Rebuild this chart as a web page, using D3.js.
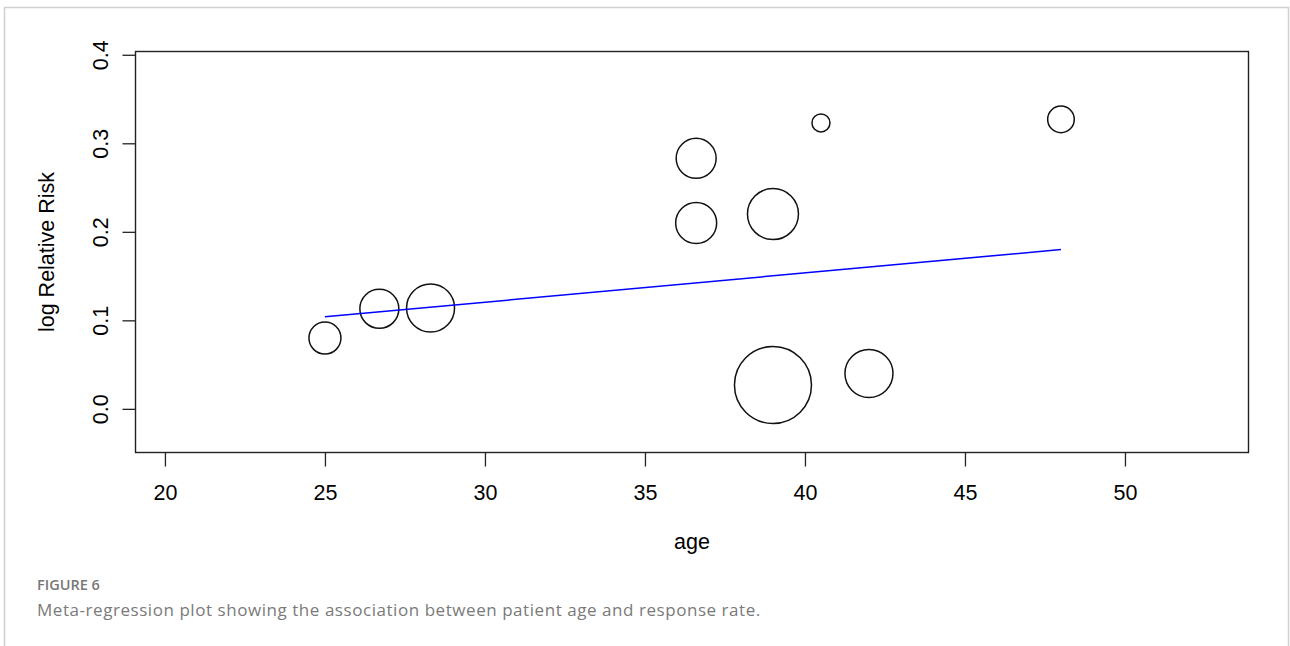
<!DOCTYPE html>
<html>
<head>
<meta charset="utf-8">
<script src="https://cdn.jsdelivr.net/npm/d3@7"></script>
<style>
  body { margin: 0; background: #fff; }
  svg { display: block; }
</style>
</head>
<body>
<div id="chart"></div>
<script>
// study data: age, log RR, circle radius (px, ~ weight)
const ages = [25.0, 26.7, 28.3, 36.6, 36.6, 39.0, 39.0, 40.5, 42.0, 48.0];
const logRR = [0.080, 0.113, 0.114, 0.283, 0.210, 0.220, 0.027, 0.323, 0.040, 0.327];
const radii = [16, 19.5, 24, 20, 20.5, 25.5, 38.5, 9, 24, 13.3];

// fitted meta-regression line (endpoints at min / max age)
const fitAge = [25, 48];
const fitRR = [0.104, 0.180];

const xTicks = [20, 25, 30, 35, 40, 45, 50];
const yTicks = [0.0, 0.1, 0.2, 0.3, 0.4];

const W = 1290, H = 646;
const box = {left: 135.5, top: 51.5, right: 1248.5, bottom: 452.5};

const svg = d3.select("#chart").append("svg")
    .attr("width", W)
    .attr("height", H);

// card frame
svg.append("rect")
    .attr("x", 4.5).attr("y", 7.5)
    .attr("width", 1284).attr("height", 660)
    .attr("fill", "none")
    .attr("stroke", "#d0d0d0")
    .attr("stroke-width", 1.5);

const x = d3.scaleLinear()
    .domain([19.08, 53.86])
    .range([box.left, box.right]);

const y = d3.scaleLinear()
    .domain([-0.0493, 0.4037])
    .range([box.bottom, box.top]);

const plotFont = "'Liberation Sans', Arial, sans-serif";
const fs = "21.5px";

// x axis
const xAxis = svg.append("g")
    .attr("transform", `translate(0,${box.bottom})`)
    .call(d3.axisBottom(x).tickValues(xTicks).tickSize(14).tickFormat(d3.format("d")));
xAxis.select(".domain").remove();
xAxis.selectAll("line").attr("stroke", "#222").attr("stroke-width", 1.3);
xAxis.selectAll("text")
    .style("font-family", plotFont)
    .style("font-size", fs)
    .attr("fill", "#000")
    .attr("y", 47).attr("dy", 0);

// y axis (labels rotated, R style)
const yAxis = svg.append("g")
    .attr("transform", `translate(${box.left},0)`)
    .call(d3.axisLeft(y).tickValues(yTicks).tickSize(13).tickFormat(d3.format(".1f")));
yAxis.select(".domain").remove();
yAxis.selectAll("line").attr("stroke", "#222").attr("stroke-width", 1.3);
yAxis.selectAll("text")
    .style("font-family", plotFont)
    .style("font-size", fs)
    .attr("fill", "#000")
    .attr("x", 0).attr("dy", 0)
    .attr("text-anchor", "middle")
    .attr("transform", "translate(-28,0) rotate(-90)");

// plot box
svg.append("rect")
    .attr("x", box.left).attr("y", box.top)
    .attr("width", box.right - box.left)
    .attr("height", box.bottom - box.top)
    .attr("fill", "none")
    .attr("stroke", "#222")
    .attr("stroke-width", 1.4);

// axis titles
svg.append("text")
    .attr("x", (box.left + box.right) / 2)
    .attr("y", 549)
    .attr("text-anchor", "middle")
    .style("font-family", plotFont)
    .style("font-size", fs)
    .text("age");

svg.append("text")
    .attr("transform", `translate(54,${(box.top + box.bottom) / 2}) rotate(-90)`)
    .attr("text-anchor", "middle")
    .style("font-family", plotFont)
    .style("font-size", fs)
    .text("log Relative Risk");

// study circles
const studies = ages.map((a, i) => ({age: a, rr: logRR[i], r: radii[i]}));
svg.append("g").selectAll("circle")
    .data(studies).enter().append("circle")
    .attr("cx", d => x(d.age))
    .attr("cy", d => y(d.rr))
    .attr("r", d => d.r)
    .attr("fill", "none")
    .attr("stroke", "#111")
    .attr("stroke-width", 1.5);

// regression line
svg.append("line")
    .attr("x1", x(fitAge[0])).attr("y1", y(fitRR[0]))
    .attr("x2", x(fitAge[1])).attr("y2", y(fitRR[1]))
    .attr("stroke", "#0000ff")
    .attr("stroke-width", 1.5);

// caption
svg.append("text")
    .attr("x", 37).attr("y", 590)
    .style("font-family", "'Open Sans', sans-serif")
    .style("font-size", "14.5px")
    .style("font-weight", 600)
    .attr("fill", "#777")
    .text("FIGURE 6");

svg.append("text")
    .attr("x", 37).attr("y", 616)
    .style("font-family", "'Open Sans', sans-serif")
    .style("font-size", "17px")
    .style("letter-spacing", "0.55px")
    .attr("fill", "#7a7a7a")
    .text("Meta-regression plot showing the association between patient age and response rate.");
</script>
</body>
</html>
